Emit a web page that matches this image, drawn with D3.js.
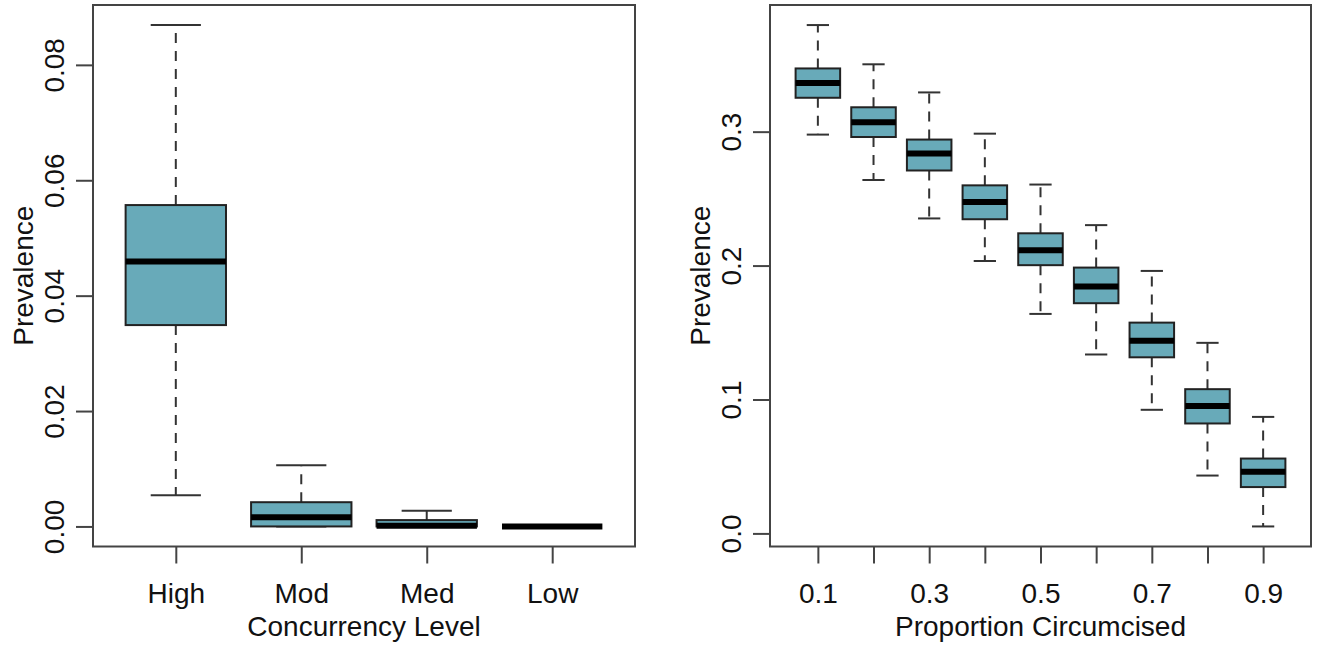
<!DOCTYPE html>
<html>
<head>
<meta charset="utf-8">
<script src="https://cdn.jsdelivr.net/npm/d3@7"></script>
<style>
  body { margin: 0; background: #fff; }
  text { font-family: "Liberation Sans", Arial, sans-serif; fill: #111; }
</style>
</head>
<body>
<div id="chart"></div>
<script>
// left panel: concurrency level
const concurrencyLevels = ['High', 'Mod', 'Med', 'Low'];
const concLower  = [0.0054, 0.0000, 0.0000, 0.0000];
const concQ1     = [0.0349, 0.0000, 0.0000, 0.0000];
const concMedian = [0.0459, 0.0016, 0.0001, 0.0000];
const concQ3     = [0.0557, 0.0042, 0.0011, 0.0000];
const concUpper  = [0.0869, 0.0106, 0.0027, 0.0000];
const concTicks  = [0, 0.02, 0.04, 0.06, 0.08];

// right panel: proportion circumcised
const circLevels = ['0.1', '0.2', '0.3', '0.4', '0.5', '0.6', '0.7', '0.8', '0.9'];
const circLower  = [0.2978, 0.2639, 0.2352, 0.2034, 0.1639, 0.1336, 0.0923, 0.0432, 0.0052];
const circQ1     = [0.3253, 0.2960, 0.2710, 0.2346, 0.2003, 0.1719, 0.1315, 0.0821, 0.0346];
const circMedian = [0.3364, 0.3071, 0.2836, 0.2475, 0.2114, 0.1843, 0.1438, 0.0951, 0.0460];
const circQ3     = [0.3472, 0.3182, 0.2941, 0.2599, 0.2241, 0.1985, 0.1574, 0.1077, 0.0559];
const circUpper  = [0.3796, 0.3503, 0.3293, 0.2985, 0.2605, 0.2302, 0.1960, 0.1423, 0.0870];
const circTicks  = [0, 0.1, 0.2, 0.3];

const width = 1319;
const height = 648;
const boxFill = '#68aab9';
const fontSize = 28;

const svg = d3.select('#chart')
    .append('svg')
    .attr('width', width)
    .attr('height', height);

drawPanel({
    left: 93, right: 635, top: 5, bottom: 546.5,
    levels: concurrencyLevels,
    lower: concLower, q1: concQ1, median: concMedian, q3: concQ3, upper: concUpper,
    ticks: concTicks, tickFmt: d3.format('.2f'),
    xTitle: 'Concurrency Level', yTitle: 'Prevalence',
    showLabel: () => true
});

drawPanel({
    left: 770, right: 1311, top: 5, bottom: 546.5,
    levels: circLevels,
    lower: circLower, q1: circQ1, median: circMedian, q3: circQ3, upper: circUpper,
    ticks: circTicks, tickFmt: d3.format('.1f'),
    xTitle: 'Proportion Circumcised', yTitle: 'Prevalence',
    // R drops the labels that would overlap
    showLabel: (d, i) => i % 2 === 0
});

function drawPanel(p) {
    const n = p.levels.length;
    const data = p.levels.map((name, i) => ({
        name: name, pos: i + 1,
        lower: p.lower[i], q1: p.q1[i], median: p.median[i], q3: p.q3[i], upper: p.upper[i]
    }));

    // like R: xlim = c(0.5, n + 0.5) plus 4% on each side
    const x = d3.scaleLinear()
        .domain([0.5 - 0.04 * n, n + 0.5 + 0.04 * n])
        .range([p.left, p.right]);

    const yMin = d3.min(p.lower);
    const yMax = d3.max(p.upper);
    const pad = (yMax - yMin) * 0.04;
    const y = d3.scaleLinear()
        .domain([yMin - pad, yMax + pad])
        .range([p.bottom, p.top]);

    // boxwex 0.8, staples half as wide
    const boxW = x(1.8) - x(1);
    const capW = boxW / 2;

    const g = svg.append('g');

    const box = g.selectAll('.box')
        .data(data)
        .enter()
        .append('g')
        .attr('class', 'box');

    // whiskers
    box.append('line')
        .attr('x1', d => x(d.pos)).attr('x2', d => x(d.pos))
        .attr('y1', d => y(d.q3)).attr('y2', d => y(d.upper))
        .attr('stroke', '#333').attr('stroke-width', 2)
        .attr('stroke-dasharray', '10,8');
    box.append('line')
        .attr('x1', d => x(d.pos)).attr('x2', d => x(d.pos))
        .attr('y1', d => y(d.q1)).attr('y2', d => y(d.lower))
        .attr('stroke', '#333').attr('stroke-width', 2)
        .attr('stroke-dasharray', '10,8');

    // staples
    box.append('line')
        .attr('x1', d => x(d.pos) - capW / 2).attr('x2', d => x(d.pos) + capW / 2)
        .attr('y1', d => y(d.upper)).attr('y2', d => y(d.upper))
        .attr('stroke', '#333').attr('stroke-width', 2);
    box.append('line')
        .attr('x1', d => x(d.pos) - capW / 2).attr('x2', d => x(d.pos) + capW / 2)
        .attr('y1', d => y(d.lower)).attr('y2', d => y(d.lower))
        .attr('stroke', '#333').attr('stroke-width', 2);

    box.append('rect')
        .attr('x', d => x(d.pos) - boxW / 2)
        .attr('width', boxW)
        .attr('y', d => y(d.q3))
        .attr('height', d => y(d.q1) - y(d.q3))
        .attr('fill', boxFill)
        .attr('stroke', '#222').attr('stroke-width', 2);

    box.append('line')
        .attr('x1', d => x(d.pos) - boxW / 2).attr('x2', d => x(d.pos) + boxW / 2)
        .attr('y1', d => y(d.median)).attr('y2', d => y(d.median))
        .attr('stroke', '#000').attr('stroke-width', 6);

    // frame
    g.append('rect')
        .attr('x', p.left).attr('y', p.top)
        .attr('width', p.right - p.left).attr('height', p.bottom - p.top)
        .attr('fill', 'none').attr('stroke', '#444').attr('stroke-width', 2);

    // y axis
    const yAxis = g.append('g')
        .attr('transform', `translate(${p.left},0)`)
        .call(d3.axisLeft(y).tickValues(p.ticks).tickSize(17).tickFormat(p.tickFmt));
    yAxis.select('.domain').remove();
    yAxis.selectAll('line').attr('stroke', '#444').attr('stroke-width', 2);
    yAxis.selectAll('text')
        .attr('transform', 'rotate(-90)')
        .attr('x', 0).attr('y', -29).attr('dy', 0)
        .attr('text-anchor', 'middle')
        .style('font-size', fontSize + 'px')
        .style('font-family', '"Liberation Sans", Arial, sans-serif')
        .attr('fill', '#111');

    // x axis
    const xAxis = g.append('g')
        .attr('transform', `translate(0,${p.bottom})`)
        .call(d3.axisBottom(x).tickValues(d3.range(1, n + 1)).tickSize(17)
            .tickFormat((d, i) => p.showLabel(d, i) ? p.levels[i] : ''));
    xAxis.select('.domain').remove();
    xAxis.selectAll('line').attr('stroke', '#444').attr('stroke-width', 2);
    xAxis.selectAll('text')
        .attr('y', 56).attr('dy', 0)
        .style('font-size', fontSize + 'px')
        .style('font-family', '"Liberation Sans", Arial, sans-serif')
        .attr('fill', '#111');

    // titles
    g.append('text')
        .attr('x', (p.left + p.right) / 2)
        .attr('y', p.bottom + 89)
        .attr('text-anchor', 'middle')
        .style('font-size', fontSize + 'px')
        .text(p.xTitle);

    g.append('text')
        .attr('transform', `translate(${p.left - 60},${(p.top + p.bottom) / 2}) rotate(-90)`)
        .attr('text-anchor', 'middle')
        .style('font-size', fontSize + 'px')
        .text(p.yTitle);
}
</script>
</body>
</html>
